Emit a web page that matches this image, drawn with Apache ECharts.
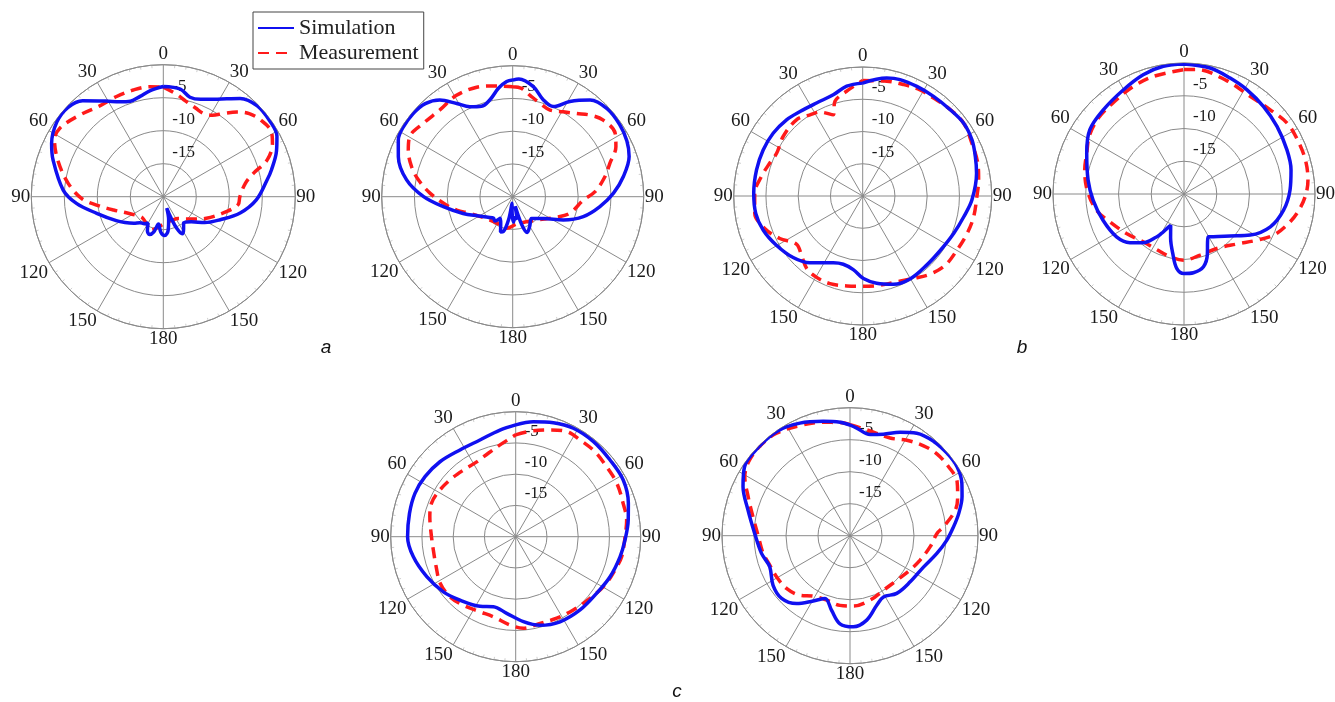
<!DOCTYPE html>
<html>
<head>
<meta charset="utf-8">
<script src="https://cdn.jsdelivr.net/npm/echarts@6/dist/echarts.min.js"></script>
<style>
html,body{margin:0;padding:0;background:#fff;}
#chart{width:1335px;height:702px;}
</style>
</head>
<body>
<div id="chart"></div>
<script>
// ---- data: [angle (deg, clockwise from 0), gain (dB)] ----
const angleTicks = [0, 30, 60, 90, 120, 150, 180, 210, 240, 270, 300, 330];
const radialTicks = [-20, -15, -10, -5, 0];
const seriesNames = ['Simulation', 'Measurement'];
const panelLetters = ['a', 'b', 'c'];

const simA1 = [[0,-3.3],[9,-3.5],[15,-4.4],[21,-4.2],[29,-3.1],[38,-1.1],[46,-0.2],[55,-0.2],[62,-0.5],[68,-1.5],[76,-3.1],[81,-4.1],[92,-5.9],[102,-8.1],[112,-10.7],[122,-12.6],[132,-14.3],[142,-15.0],[148,-14.2],[153,-13.7],[157,-14.8],[160,-16.6],[163,-18.2],[167,-16.4],[172,-14.8],[178,-14.1],[184,-14.6],[190,-15.8],[195,-14.5],[200,-13.9],[205,-14.3],[210,-15.4],[215,-15.0],[222,-14.7],[228,-14.0],[236,-13.0],[243,-12.0],[256,-9.6],[265.6,-6.8],[273.8,-4.8],[288.4,-2.4],[295.5,-1.25],[305,-0.3],[313,-0.2],[320,-1.0],[329,-3.1],[335.5,-4.2],[341,-4.7],[347,-4.4],[353,-3.8],[360,-3.3]];
const meaA1 = [[0,-3.4],[7,-4.3],[13,-5.1],[20,-5.7],[26,-6.0],[31,-5.6],[36,-4.4],[41,-3.0],[46,-1.9],[52,-1.2],[59,-0.9],[64,-1.6],[70.5,-3.3],[75.5,-5.9],[80.7,-7.4],[90,-8.4],[96,-8.6],[103,-10.1],[116.6,-12.7],[125,-14.1],[135,-15.2],[146,-16.0],[160,-16.2],[175,-16.0],[190,-15.3],[200,-14.6],[212,-15.2],[225,-15.5],[233,-15.2],[246.4,-13.9],[255,-12.2],[262.9,-9.8],[268.8,-7.6],[278,-5.45],[289,-3.1],[297.6,-1.4],[303.5,-1.2],[314.4,-2.3],[325,-3.2],[335,-3.25],[344.3,-3.2],[353,-3.2],[360,-3.4]];

const simA2 = [[0,-2.2],[3,-2.0],[10.6,-2.9],[17.6,-4.5],[24.3,-4.9],[31,-3.05],[38.7,-1.1],[47,-0.3],[56,-0.3],[64,-0.6],[71,-1.2],[79.8,-2.85],[88,-4.6],[96.5,-6.6],[105.8,-8.8],[114.7,-11.5],[125,-14.2],[139,-15.6],[150,-14.8],[158,-14.1],[162,-15.5],[165,-18.5],[169,-16.5],[174,-16.8],[178,-16.1],[182,-17.5],[186,-19],[190,-16.5],[195,-14.5],[199,-14.3],[204,-15.5],[210,-16.2],[216,-15.4],[222,-15.6],[230,-15.1],[240.6,-14],[251.3,-12],[261.8,-9.3],[270,-6.4],[279,-3.6],[289.3,-1.5],[296.4,-0.5],[302,-0.2],[310,-0.2],[316.8,-0.5],[323,-1.5],[329,-3.4],[334.6,-4.8],[341,-5.4],[346.8,-4.8],[352.5,-3.3],[357,-2.4],[360,-2.2]];
const meaA2 = [[0,-3.2],[4.7,-3.4],[9.7,-4.3],[16.3,-5.15],[23.3,-5.6],[30.8,-4.9],[37.5,-4.0],[43.4,-2.85],[49.8,-1.9],[58.2,-1.6],[64.2,-2.5],[71,-4.3],[77.8,-5.6],[86.5,-7.4],[92.7,-9.2],[106,-10.9],[115,-12.6],[134,-14.9],[154,-15.7],[171.7,-15.8],[190.7,-15.1],[211,-15.3],[234.8,-14.5],[248.7,-13],[256.6,-11.2],[264.5,-9.4],[272.3,-7.4],[280,-5.4],[286.5,-3.9],[294,-2.55],[300.3,-1.8],[309.4,-2.35],[320,-2.7],[331,-2.3],[341.8,-2.4],[348.4,-2.75],[353.5,-3.0],[360,-3.2]];

const simB1 = [[0,-2.5],[11.5,-1.35],[17.8,-1.05],[26.3,-1.05],[35.4,-1.05],[45.4,-0.95],[54.2,-0.7],[62.8,-0.95],[70.7,-1.5],[78.7,-2.0],[92,-3.05],[101.6,-4.0],[112.4,-4.75],[124.9,-5.3],[137,-5.4],[150,-5.2],[160.8,-5.5],[170.9,-6.3],[179.5,-7.2],[187.3,-8.5],[195.9,-9.0],[203.7,-8.7],[218.3,-6.8],[228.5,-5.6],[240.3,-4.6],[251,-3.7],[260.8,-3.2],[271.4,-3.1],[283.8,-3.05],[294.8,-3.0],[305,-3.05],[315,-3.3],[323.4,-3.7],[333.6,-3.9],[343.8,-3.65],[351.7,-2.8],[360,-2.5]];
const meaB1 = [[0,-2.1],[11.9,-1.8],[20,-1.6],[28.4,-1.3],[35.9,-1.25],[44.3,-0.95],[54.2,-0.7],[64.2,-1.2],[74.1,-1.45],[82,-1.85],[90.3,-2.3],[100.6,-2.5],[109.7,-2.8],[119.9,-3.15],[130,-3.3],[139.2,-4.0],[148.4,-5.0],[158.4,-5.7],[169,-5.9],[179.6,-6.0],[190,-5.85],[200.5,-5.5],[209.5,-5.5],[217.7,-5.8],[226,-6.8],[234,-7.3],[242.9,-5.55],[251.7,-4.0],[260.9,-3.05],[271.4,-3.25],[280.8,-4.0],[289.4,-4.7],[296.4,-5.1],[306.8,-4.6],[319,-4.35],[327,-5.0],[333,-5.4],[340,-6.6],[343.7,-4.7],[351,-3.6],[360,-2.1]];

const simB2 = [[0,-0.15],[11.7,-0.35],[21.7,-0.95],[31,-1.4],[42.3,-1.95],[54,-2.45],[66.8,-2.9],[77.3,-3.25],[87.8,-3.8],[99.2,-4.6],[110.8,-5.9],[121.8,-8.1],[132.4,-10.5],[145.5,-12.1],[150.3,-12.5],[154,-11.8],[158.5,-10.25],[165,-8.5],[173.2,-7.9],[180,-7.85],[185.6,-8.6],[190.8,-10.8],[197,-13],[203,-14.8],[206,-14.2],[210,-13.0],[212.6,-12.2],[219.9,-10.3],[228,-8.9],[237.6,-7.8],[252,-7.0],[266,-6.1],[278.3,-5.2],[292.7,-3.9],[304.2,-2.6],[316.2,-2.2],[329.7,-1.6],[341.1,-0.75],[350.8,-0.25],[360,-0.15]];
const meaB2 = [[0,-1.0],[5.8,-0.9],[20.6,-1.5],[34.1,-2.0],[45.7,-1.6],[55.5,-0.9],[64.5,-0.8],[74.3,-0.75],[83.5,-0.95],[91.3,-1.5],[99.7,-2.5],[106.8,-3.6],[114.7,-4.95],[122.3,-6.8],[133.5,-8.9],[149,-10.3],[165.3,-10.35],[180,-9.9],[192.6,-10.2],[206.3,-10.55],[220.5,-10.4],[235.5,-9.35],[249.5,-7.9],[259.6,-6.4],[272.4,-5.2],[283.6,-4.4],[292.7,-3.9],[302,-3.0],[312.6,-2.5],[324.4,-2.3],[334.7,-1.85],[345.4,-1.45],[360,-1.0]];

const simC1 = [[0,-2.1],[8.7,-1.4],[18.3,-0.8],[28,-0.35],[39.3,-0.35],[50.9,-0.55],[62.2,-0.55],[73.5,-1.2],[81.6,-1.8],[91.7,-2.5],[100.9,-3.0],[113,-3.6],[125,-4.2],[138.7,-4.4],[152.5,-4.65],[164.6,-5.3],[174.8,-6.35],[186.7,-7.65],[197.7,-8.25],[207.2,-7.5],[221.3,-6.5],[232.7,-5.45],[245.8,-4.4],[259,-3.3],[270,-2.7],[282.4,-2.6],[293.3,-2.45],[303.5,-2.6],[314.7,-2.95],[327.3,-3.5],[339.7,-3.5],[351.6,-2.75],[360,-2.1]];
const meaC1 = [[0,-3.7],[9.5,-2.8],[17.8,-2.05],[25.9,-1.3],[33.6,-1.4],[43,-1.4],[52.4,-1.65],[62.2,-1.7],[72.8,-2.0],[81.5,-2.05],[90,-2.5],[100.7,-2.75],[108.5,-3.25],[118.4,-3.75],[129.7,-4.55],[141.8,-5.1],[153.3,-5.4],[164.3,-5.6],[175.2,-5.3],[183.7,-5.85],[195.6,-6.7],[205.4,-6.7],[217.5,-6.2],[227.6,-5.75],[238.3,-5.8],[249.4,-6.4],[260.8,-6.65],[272.3,-6.45],[283,-5.9],[291.6,-5.5],[300.2,-5.7],[310.8,-6.1],[321.9,-6.45],[332.5,-6.5],[341.8,-5.95],[350.3,-5.1],[356.7,-4.25],[360,-3.7]];

const simC2 = [[0,-2.7],[3.6,-3.15],[11.2,-3.9],[18.2,-3.3],[25.9,-2.05],[33.1,-0.9],[41.6,-0.3],[49.6,-0.1],[57.1,-0.1],[64.9,-0.7],[70.7,-1.45],[78.4,-2.65],[85,-3.75],[92.6,-4.85],[101.5,-6.15],[112.9,-7.5],[127.5,-8.15],[141,-8.4],[151.3,-9.1],[159,-8.35],[168.8,-6.55],[177.9,-5.75],[186.5,-6.15],[193.9,-8.0],[201.7,-9.45],[209.4,-8.3],[218.2,-6.5],[227.5,-5.5],[237.2,-5.7],[248.8,-6.55],[258.7,-5.9],[271.4,-5.1],[284.2,-3.55],[294.7,-1.6],[303.3,-0.3],[314.7,-0.1],[325.2,-0.1],[336,-0.75],[346.8,-1.65],[355,-2.2],[360,-2.7]];
const meaC2 = [[0,-2.65],[9,-3.25],[22.3,-3.5],[30.8,-2.65],[39.3,-1.85],[46.7,-1.35],[55,-1.2],[63.2,-1.25],[70,-2.1],[76.3,-3.05],[84.5,-5.3],[88.5,-6.4],[97.8,-7.35],[109.2,-8.4],[119.8,-9.2],[133.5,-9.9],[148.5,-10.0],[162.7,-9.45],[177.3,-9.0],[188.2,-9.0],[200,-9.3],[211.3,-8.95],[220,-7.85],[230.3,-7.1],[240.8,-6.85],[249.9,-6.65],[258.5,-6.15],[270,-5.65],[281,-4.55],[291,-2.95],[299.3,-1.15],[307,-0.35],[316.3,-0.15],[324.4,-0.3],[335.5,-1.1],[346.7,-1.8],[355,-2.25],[360,-2.65]];

const panels = [
  {sim: simA1, mea: meaA1},
  {sim: simA2, mea: meaA2},
  {sim: simB1, mea: meaB1},
  {sim: simB2, mea: meaB2},
  {sim: simC1, mea: meaC1},
  {sim: simC2, mea: meaC2}
];

// ---- layout (pixels) ----
const layout = [
  {center: [163.3, 196.7], radius: 132},
  {center: [512.7, 196.7], radius: 131},
  {center: [862.7, 196], radius: 129},
  {center: [1184, 194], radius: 131},
  {center: [515.7, 536.7], radius: 125},
  {center: [850, 535.7], radius: 128}
];
const letterPos = [[326, 348], [1022, 348], [677, 692]];

const SERIF = "'Liberation Serif','Times New Roman',serif";
const GRID = '#8a8a8a';
const TICK = '#cfcfcf';
const BLUE = '#1010f0';
const RED = '#ff1a1a';

const chart = echarts.init(document.getElementById('chart'), null, {renderer: 'canvas'});

const polar = [], angleAxis = [], radiusAxis = [], series = [];
layout.forEach((L, i) => {
  polar.push({center: L.center, radius: L.radius});
  angleAxis.push({
    polarIndex: i, type: 'value', min: 0, max: 360, interval: 30,
    startAngle: 90, clockwise: true,
    axisLine: {show: true, lineStyle: {color: GRID, width: 1}},
    axisTick: {show: false, inside: true, length: 3, lineStyle: {color: TICK}},
    minorTick: {show: true, splitNumber: 6, length: 3, lineStyle: {color: TICK}},
    splitLine: {show: true, lineStyle: {color: GRID, width: 1}},
    axisLabel: {
      show: true, margin: 1, align: 'center', verticalAlign: 'middle',
      fontFamily: SERIF, fontSize: 19, color: '#1a1a1a',
      formatter: v => {
        if (angleTicks.indexOf(v) < 0) return '';
        return String(v <= 180 ? v : 360 - v);
      }
    }
  });
  radiusAxis.push({
    polarIndex: i, type: 'value',
    min: radialTicks[0], max: radialTicks[radialTicks.length - 1], interval: 5,
    axisLine: {show: false}, axisTick: {show: false},
    splitLine: {show: true, lineStyle: {color: GRID, width: 1}},
    axisLabel: {
      show: true, margin: -9, align: 'left', verticalAlign: 'bottom',
      padding: [0, 0, 3, 0],
      fontFamily: SERIF, fontSize: 17, color: '#1a1a1a',
      formatter: v => (v === radialTicks[0] || v === radialTicks[radialTicks.length - 1]) ? '' : String(v)
    }
  });
  const P = panels[i];
  series.push({
    name: seriesNames[0], type: 'line', coordinateSystem: 'polar', polarIndex: i,
    symbol: 'none', smooth: 0.35, z: 3,
    lineStyle: {color: BLUE, width: 3.5, type: 'solid'},
    itemStyle: {color: BLUE},
    data: P.sim.map(p => [p[1], p[0]])
  });
  series.push({
    name: seriesNames[1], type: 'line', coordinateSystem: 'polar', polarIndex: i,
    symbol: 'none', smooth: 0.35, z: 2,
    lineStyle: {color: RED, width: 3.5, type: [11, 7]},
    itemStyle: {color: RED},
    data: P.mea.map(p => [p[1], p[0]])
  });
});

const graphic = panelLetters.map((t, k) => ({
  type: 'text', x: letterPos[k][0], y: letterPos[k][1],
  style: {text: t, font: "italic 19px 'Liberation Sans', Arial, sans-serif", fill: '#111',
          textAlign: 'center', textVerticalAlign: 'middle'}
}));

chart.setOption({
  animation: false,
  backgroundColor: '#fff',
  polar, angleAxis, radiusAxis, series, graphic,
  legend: {
    data: seriesNames, orient: 'vertical', left: 253, top: 12,
    padding: [5, 5, 5, 4], itemGap: 3, itemWidth: 36, itemHeight: 14,
    itemStyle: {opacity: 0},
    borderColor: '#444', borderWidth: 1, backgroundColor: '#fff',
    textStyle: {fontFamily: SERIF, fontSize: 22, color: '#222'}
  }
});
</script>
</body>
</html>
